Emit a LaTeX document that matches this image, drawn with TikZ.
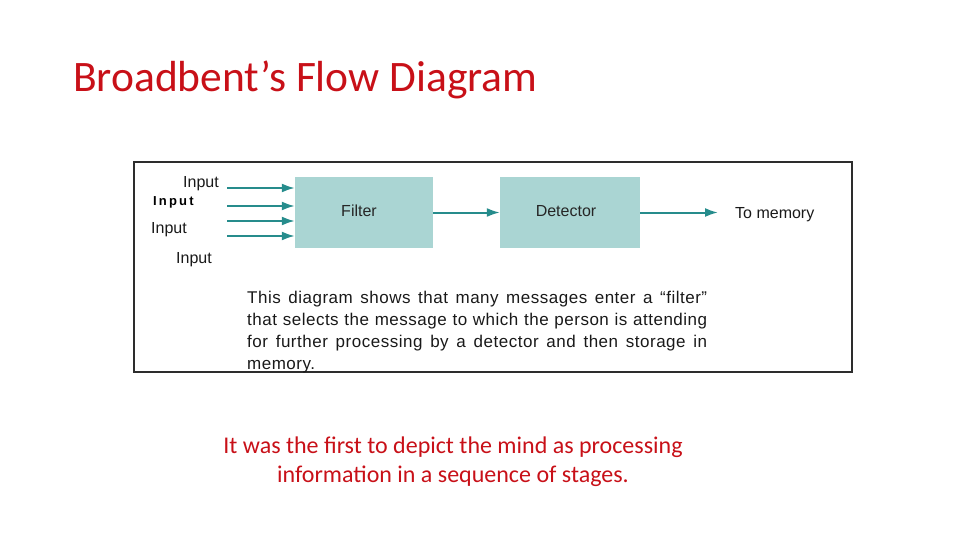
\documentclass[tikz,border=0pt]{standalone}
\usepackage{fontspec}
\setmainfont{Liberation Sans}
\newfontfamily\slidefont{Carlito}
\newfontfamily\captionfont[LetterSpace=3]{Liberation Sans}
\usepackage{xcolor}
\usetikzlibrary{arrows.meta}

\definecolor{slidered}{RGB}{200,16,24}
\definecolor{boxfill}{RGB}{170,213,211}
\definecolor{flowteal}{RGB}{38,140,140}
\definecolor{framegray}{RGB}{45,45,45}

\tikzset{
    stagebox/.style={fill=boxfill, draw=none, minimum width=138pt, minimum height=71pt, font=\fontsize{16}{19}\selectfont, text=black!85},
    flow/.style={-{Latex[length=13pt, width=9pt]}, flowteal, line width=2pt},
    inlabel/.style={font=\fontsize{16}{19}\selectfont, text=black!90, inner sep=0pt}
}

\begin{document}
\begin{tikzpicture}[x=1pt, y=-1pt]
    % Slide area 960 x 540
    \useasboundingbox (0,0) rectangle (960,540);

    % Title
    \node[anchor=west, inner sep=0pt, text=slidered, font=\slidefont\fontsize{43.5}{50}\selectfont] (title) at (73,80) {Broadbent’s Flow Diagram};

    % Framed figure
    \draw[framegray, line width=2pt] (134,162) rectangle (852,372);

    % Stages
    \node[stagebox] (filter) at (364,212.5) {\raisebox{3pt}{Filter}\kern10pt};
    \node[stagebox, minimum width=140pt] (detector) at (570,212.5) {\raisebox{3pt}{Detector}\kern8pt};

    % Input arrows (free ends)
    \coordinate (in1) at (227,188);
    \coordinate (in2) at (227,206);
    \coordinate (in3) at (227,221);
    \coordinate (in4) at (227,236);
    \draw[flow] (in1) -- (in1 -| filter.west);
    \draw[flow] (in2) -- (in2 -| filter.west);
    \draw[flow] (in3) -- (in3 -| filter.west);
    \draw[flow] (in4) -- (in4 -| filter.west);

    % Input labels
    \node[inlabel, anchor=east] (lab1) at (219,184) {Input};
    \node[inlabel, anchor=west, font=\bfseries\fontsize{13}{16}\selectfont, text=black] (lab2) at (153,202) {I\,n\,p\,u\,t};
    \node[inlabel, anchor=west] (lab3) at (151,230) {Input};
    \node[inlabel, anchor=west] (lab4) at (176,260) {Input};

    % Filter -> detector -> memory
    \coordinate (mem) at (718,212.5);
    \draw[flow] (filter) -- (detector);
    \draw[flow] (detector) -- (mem);
    \node[inlabel, anchor=west] (memlab) at (735,215) {To memory};

    % Caption inside the frame
    \node[anchor=north west, inner sep=0pt, text width=460pt, align=justify, text=black!90,
          font=\captionfont\fontsize{17}{22}\selectfont] (caption) at (247,291)
        {\hyphenpenalty=10000 This diagram shows that many messages enter a “filter”\linebreak
         that selects the message to which the person is attending\linebreak
         for further processing by a detector and then storage in\linebreak
         memory.};

    % Note below
    \node[align=center, inner sep=0pt, text=slidered, font=\slidefont\fontsize{24}{29}\selectfont] (note) at (453,462)
        {It was the first to depict the mind as processing\\information in a sequence of stages.};
\end{tikzpicture}
\end{document}
